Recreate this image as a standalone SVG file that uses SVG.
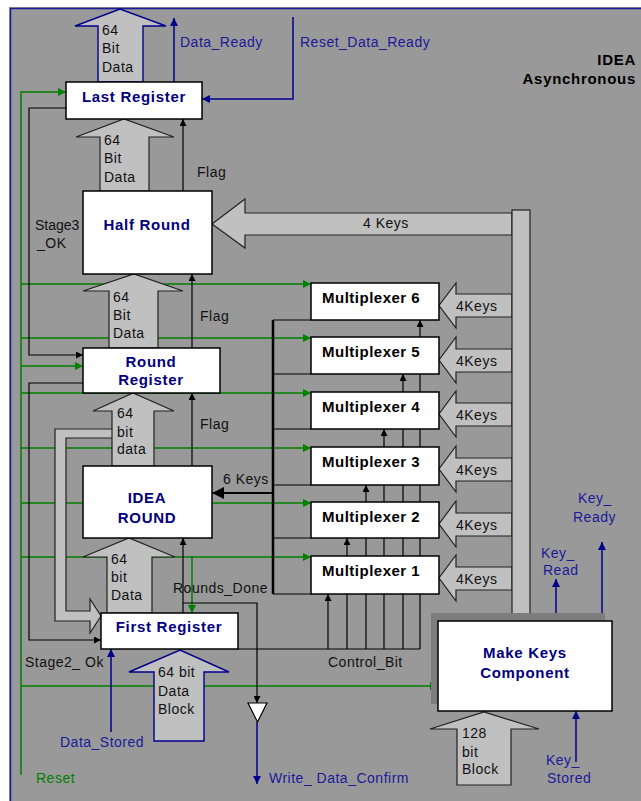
<svg xmlns="http://www.w3.org/2000/svg" width="641" height="801" viewBox="0 0 641 801">
<defs>
<style>
.bg{fill:#999999}
.box{fill:#fff;stroke:#000;stroke-width:1.5}
.arr{fill:#c0c0c0;stroke:#222;stroke-width:1.2}
.arrb{fill:#c0c0c0;stroke:#00008b;stroke-width:1.4}
.g{fill:none;stroke:#008000;stroke-width:1.5}
.k{fill:none;stroke:#000;stroke-width:1.2}
.kt{fill:none;stroke:#000;stroke-width:2.5}
.b{fill:none;stroke:#00008b;stroke-width:1.5}
text{font-family:"Liberation Sans",Arial,sans-serif}
.t{font-size:14px;fill:#111;letter-spacing:0.5px}
.s{font-size:14px;fill:#1a1a9a;letter-spacing:0.5px}
.gt{font-size:14px;fill:#008000;letter-spacing:0.5px}
.h{font-size:15px;font-weight:bold;fill:#000080;letter-spacing:0.7px;text-anchor:middle}
.m{font-size:15px;font-weight:bold;fill:#000;letter-spacing:0.5px}
.ti{font-size:15px;font-weight:bold;fill:#000;letter-spacing:0.7px;text-anchor:end}
</style>
<marker id="ak" viewBox="0 0 10 10" refX="10" refY="5" markerWidth="7" markerHeight="7" markerUnits="userSpaceOnUse" orient="auto"><path d="M0,0L10,5L0,10z" fill="#000"/></marker>
<marker id="ag" viewBox="0 0 10 10" refX="10" refY="5" markerWidth="8" markerHeight="8" markerUnits="userSpaceOnUse" orient="auto"><path d="M0,0L10,5L0,10z" fill="#008000"/></marker>
<marker id="ab" viewBox="0 0 10 10" refX="10" refY="5" markerWidth="8" markerHeight="8" markerUnits="userSpaceOnUse" orient="auto"><path d="M0,0L10,5L0,10z" fill="#00008b"/></marker>
<marker id="ak6" viewBox="0 0 10 10" refX="10" refY="5" markerWidth="12" markerHeight="13" markerUnits="userSpaceOnUse" orient="auto"><path d="M0,0L10,5L0,10z" fill="#000"/></marker>
</defs>

<rect x="0" y="0" width="641" height="801" fill="#fff"/>
<rect class="bg" x="9" y="7" width="632" height="794"/>
<path d="M10.5,801 V8.5 H641" fill="none" stroke="#1a1a9a" stroke-width="1.5"/>

<g id="connectors">
  <path class="g" d="M21,775 V92 H66" marker-end="url(#ag)"/>
  <path class="g" d="M21,284 H311" marker-end="url(#ag)"/>
  <path class="g" d="M21,338 H311" marker-end="url(#ag)"/>
  <path class="g" d="M21,366 H83" marker-end="url(#ag)"/>
  <path class="g" d="M21,393 H311" marker-end="url(#ag)"/>
  <path class="g" d="M21,448 H311" marker-end="url(#ag)"/>
  <path class="g" d="M21,503 H311" marker-end="url(#ag)"/>
  <path class="g" d="M21,557 H311" marker-end="url(#ag)"/>
  <path class="g" d="M192,557 V613" marker-end="url(#ag)"/>
  <path class="g" d="M21,686 H438" marker-end="url(#ag)"/>

  <path class="k" d="M66,108 H29 V355 H83" marker-end="url(#ak)"/>
  <path class="k" d="M83,383 H29 V640 H101" marker-end="url(#ak)"/>

  <path class="k" d="M183,191 V119" marker-end="url(#ak)"/>
  <path class="k" d="M192,348 V274" marker-end="url(#ak)"/>
  <path class="k" d="M192,466 V393" marker-end="url(#ak)"/>
  <path class="k" d="M183,613 V538" marker-end="url(#ak)"/>
  <path class="k" d="M183,603 H257 V703" marker-end="url(#ak)"/>

  <path class="k" d="M238,649 H420"/>
  <path class="k" d="M328,649 V594" marker-end="url(#ak)"/>
  <path class="k" d="M347,649 V538" marker-end="url(#ak)"/>
  <path class="k" d="M366,649 V485" marker-end="url(#ak)"/>
  <path class="k" d="M384,649 V429" marker-end="url(#ak)"/>
  <path class="k" d="M403,649 V374" marker-end="url(#ak)"/>
  <path class="k" d="M420,649 V320" marker-end="url(#ak)"/>

  <path class="kt" d="M273,320 V594"/>
  <path class="k" d="M273,320 H311 M273,374 H311 M273,429 H311 M273,485 H311 M273,538 H311 M273,594 H311" stroke-width="1.5"/>
  <path fill="none" stroke="#000" stroke-width="2" d="M273,493 H212" marker-end="url(#ak6)"/>

  <path class="b" d="M174,82 V18" marker-end="url(#ab)"/>
  <path class="b" d="M293,17 V99 H202" marker-end="url(#ab)"/>
  <path class="b" d="M111,732 V649" marker-end="url(#ab)"/>
  <path class="b" d="M257,722 V784" marker-end="url(#ab)"/>
  <path class="b" d="M556,621 V579" marker-end="url(#ab)"/>
  <path class="b" d="M602,621 V542" marker-end="url(#ab)"/>
  <path class="b" d="M576,762 V711" marker-end="url(#ab)"/>

  <polygon points="248,703 267,703 257.5,722" fill="#fff" stroke="#000" stroke-width="1.2"/>
</g>

<g id="data-arrows">
  <path class="arr" d="M112,429 H55 V621 H90 V633 L101,616 L90,599 V611 H66 V438 H112"/>
  <polygon class="arrb" points="98,82 98,26 75,26 120,9 166,26 143,26 143,82"/>
  <polygon class="arr" points="100,191 100,137 76,137 124,119 174,137 149,137 149,191"/>
  <polygon class="arr" points="109,348 109,291 83,291 134,274 183,291 158,291 158,348"/>
  <polygon class="arr" points="112,466 112,411 93,411 133,393 174,411 154,411 154,466"/>
  <polygon class="arr" points="107,613 107,557 83,557 129,538 175,557 152,557 152,613"/>
  <polygon class="arrb" points="154,741 154,672 129,672 180,650 229,672 204,672 204,741"/>
  <polygon class="arr" points="457,785 457,729 430,729 484,712 539,729 511,729 511,785"/>
</g>

<g id="key-arrows">
  <polygon class="arr" points="512,213 245,213 245,199 212,224 245,248 245,235 512,235"/>
  <polygon class="arr" points="512,294 456,294 456,283 439,305.5 456,328 456,317 512,317"/>
  <polygon class="arr" points="512,349 456,349 456,337 439,360 456,383 456,372 512,372"/>
  <polygon class="arr" points="512,403 456,403 456,391 439,414 456,437 456,426 512,426"/>
  <polygon class="arr" points="512,458 456,458 456,446 439,469 456,492 456,481 512,481"/>
  <polygon class="arr" points="512,513 456,513 456,501 439,524 456,547 456,536 512,536"/>
  <polygon class="arr" points="512,567 456,567 456,555 439,578 456,601 456,590 512,590"/>
  <rect x="512" y="210" width="18" height="411" fill="#c0c0c0" stroke="#222" stroke-width="1.2"/>
</g>

<g id="last-register"><rect class="box" x="66" y="82" width="136" height="37"/><text class="h" x="134" y="102">Last Register</text></g>
<g id="half-round"><rect class="box" x="83" y="191" width="129" height="83"/><text class="h" x="147" y="230">Half Round</text></g>
<g id="round-register"><rect class="box" x="83" y="348" width="137" height="45"/><text class="h" x="151" y="367">Round</text><text class="h" x="151" y="385">Register</text></g>
<g id="idea-round"><rect class="box" x="83" y="466" width="129" height="72"/><text class="h" x="147" y="503">IDEA</text><text class="h" x="147" y="523">ROUND</text></g>
<g id="first-register"><rect class="box" x="101" y="613" width="137" height="36"/><text class="h" x="169" y="632">First Register</text></g>

<g id="mux6"><rect class="box" x="311" y="283" width="128" height="37"/><text class="m" x="322" y="303">Multiplexer 6</text></g>
<g id="mux5"><rect class="box" x="311" y="337" width="128" height="37"/><text class="m" x="322" y="357">Multiplexer 5</text></g>
<g id="mux4"><rect class="box" x="311" y="392" width="128" height="37"/><text class="m" x="322" y="412">Multiplexer 4</text></g>
<g id="mux3"><rect class="box" x="311" y="447" width="128" height="38"/><text class="m" x="322" y="467">Multiplexer 3</text></g>
<g id="mux2"><rect class="box" x="311" y="502" width="128" height="36"/><text class="m" x="322" y="522">Multiplexer 2</text></g>
<g id="mux1"><rect class="box" x="311" y="556" width="128" height="38"/><text class="m" x="322" y="576">Multiplexer 1</text></g>

<g id="make-keys"><rect x="431" y="613" width="174" height="91" fill="#7d7d7d"/><rect class="box" x="438" y="621" width="174" height="90"/><text class="h" x="525" y="658">Make Keys</text><text class="h" x="525" y="678">Component</text></g>

<g id="labels">
  <text class="t" x="102" y="35">64</text><text class="t" x="102" y="53">Bit</text><text class="t" x="102" y="72">Data</text>
  <text class="t" x="104" y="145">64</text><text class="t" x="104" y="163">Bit</text><text class="t" x="104" y="182">Data</text>
  <text class="t" x="113" y="302">64</text><text class="t" x="113" y="320">Bit</text><text class="t" x="113" y="338">Data</text>
  <text class="t" x="117" y="418">64</text><text class="t" x="117" y="437">bit</text><text class="t" x="117" y="454">data</text>
  <text class="t" x="111" y="564">64</text><text class="t" x="111" y="582">bit</text><text class="t" x="111" y="600">Data</text>
  <text class="t" x="158" y="677">64 bit</text><text class="t" x="158" y="696">Data</text><text class="t" x="158" y="714">Block</text>
  <text class="t" x="462" y="738">128</text><text class="t" x="462" y="757">bit</text><text class="t" x="462" y="774">Block</text>

  <text class="s" x="180" y="47">Data_Ready</text>
  <text class="s" x="300" y="47">Reset_Data_Ready</text>
  <text class="ti" x="636" y="65">IDEA</text>
  <text class="ti" x="636" y="84">Asynchronous</text>

  <text class="t" x="197" y="177">Flag</text>
  <text class="t" x="200" y="321">Flag</text>
  <text class="t" x="200" y="429">Flag</text>
  <text class="t" x="35" y="230" style="letter-spacing:0">Stage3</text><text class="t" x="37" y="248">_OK</text>
  <text class="t" x="363" y="228">4 Keys</text>
  <text class="t" x="456" y="311">4Keys</text>
  <text class="t" x="456" y="366">4Keys</text>
  <text class="t" x="456" y="420">4Keys</text>
  <text class="t" x="456" y="475">4Keys</text>
  <text class="t" x="456" y="530">4Keys</text>
  <text class="t" x="456" y="584">4Keys</text>
  <text class="t" x="223" y="484">6 Keys</text>
  <text class="t" x="173" y="593">Rounds_Done</text>
  <text class="t" x="25" y="667">Stage2_ Ok</text>
  <text class="t" x="328" y="667">Control_Bit</text>

  <text class="s" x="60" y="747">Data_Stored</text>
  <text class="gt" x="36" y="783">Reset</text>
  <text class="s" x="269" y="783">Write_ Data_Confirm</text>
  <text class="s" x="541" y="558">Key_</text><text class="s" x="543" y="575">Read</text>
  <text class="s" x="578" y="503">Key_</text><text class="s" x="573" y="522">Ready</text>
  <text class="s" x="546" y="765">Key_</text><text class="s" x="547" y="783">Stored</text>
</g>
</svg>
